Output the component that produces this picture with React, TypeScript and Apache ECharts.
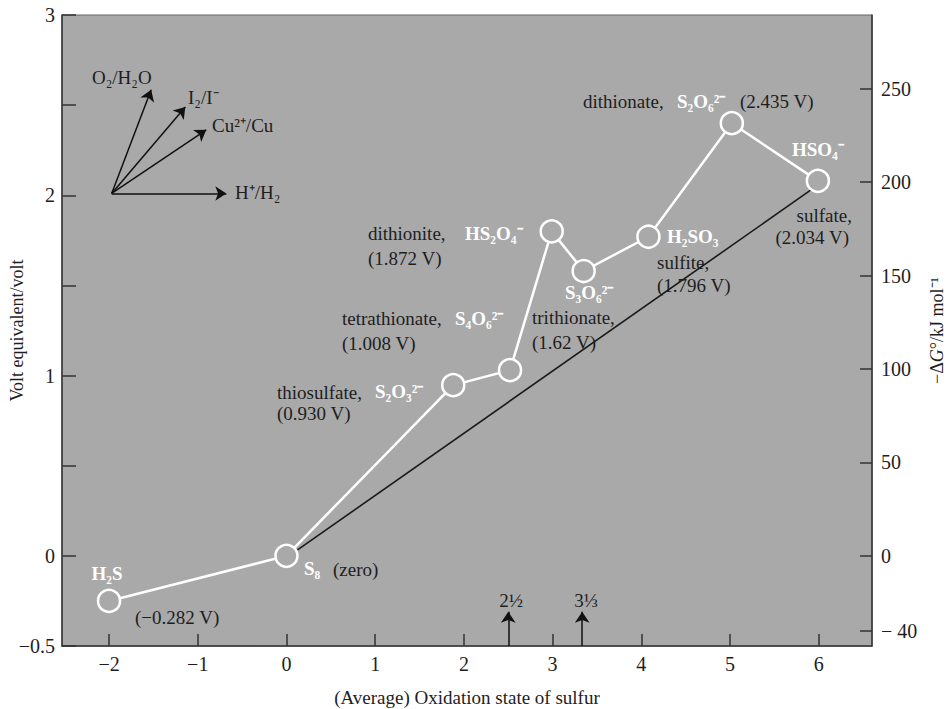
import React, { useEffect, useRef } from "react";
import * as echarts from "echarts";

const FONT = '"Liberation Serif", "Times New Roman", serif';
const FARADAY = 96.485; // kJ per volt-equivalent

// Oxidation state (x) and volt equivalent (y) of each species
const SPECIES = ["H₂S", "S₈", "S₂O₃²⁻", "S₄O₆²⁻", "HS₂O₄⁻", "S₃O₆²⁻", "H₂SO₃", "S₂O₆²⁻", "HSO₄⁻"];
const OX_STATE = [-2, 0, 1.88, 2.52, 2.99, 3.35, 4.08, 5.02, 5.99];
const VOLT_EQ = [-0.25, 0, 0.947, 1.03, 1.8, 1.58, 1.77, 2.4, 2.08];

// Straight reference line S8 -> sulfate
const REF_LINE_X = [0, 6];
const REF_LINE_Y = [-0.01, 2.06];

// Reference couples (arrows, slope = E°)
const COUPLE_ORIGIN = [-1.97, 2.01];
const COUPLE_NAMES = ["O₂/H₂O", "I₂/I⁻", "Cu²⁺/Cu", "H⁺/H₂"];
const COUPLE_TIP_X = [-1.525, -1.14, -0.904, -0.678];
const COUPLE_TIP_Y = [2.585, 2.49, 2.363, 2.01];

// Marker arrows for average oxidation states
const MARK_X = [2.5, 10 / 3];
const MARK_LABELS = ["2½", "3⅓"];
const MARK_FROM_Y = -0.5;
const MARK_TO_Y = -0.31;

// Ticks
const X_TICKS = [-2, -1, 0, 1, 2, 3, 4, 5, 6];
const Y_LABELS = [-0.5, 0, 1, 2, 3];
const G_TICKS = [-40, 0, 50, 100, 150, 200, 250];

const minus = (v: number) => (v < 0 ? "−" + Math.abs(v) : String(v));

type Ann = { t: string; x: number; y: number; w?: boolean; align?: string };
const ANNOTATIONS: Ann[] = [
  { t: "H₂S", x: 107, y: 573, w: true, align: "center" },
  { t: "(−0.282 V)", x: 135, y: 617 },
  { t: "S₈", x: 304, y: 568, w: true },
  { t: "(zero)", x: 333, y: 569 },
  { t: "thiosulfate,", x: 277, y: 392 },
  { t: "S₂O₃²⁻", x: 375, y: 391, w: true },
  { t: "(0.930 V)", x: 277, y: 413 },
  { t: "tetrathionate,", x: 342, y: 318 },
  { t: "S₄O₆²⁻", x: 455, y: 318, w: true },
  { t: "(1.008 V)", x: 342, y: 343 },
  { t: "dithionite,", x: 368, y: 233 },
  { t: "HS₂O₄⁻", x: 465, y: 233, w: true },
  { t: "(1.872 V)", x: 368, y: 258 },
  { t: "S₃O₆²⁻", x: 565, y: 292, w: true },
  { t: "trithionate,", x: 532, y: 317 },
  { t: "(1.62 V)", x: 532, y: 342 },
  { t: "H₂SO₃", x: 667, y: 236, w: true },
  { t: "sulfite,", x: 657, y: 262 },
  { t: "(1.796 V)", x: 657, y: 285 },
  { t: "dithionate,", x: 583, y: 101 },
  { t: "S₂O₆²⁻", x: 677, y: 101, w: true },
  { t: "(2.435 V)", x: 740, y: 101 },
  { t: "HSO₄⁻", x: 792, y: 149, w: true },
  { t: "sulfate,", x: 852, y: 215, align: "right" },
  { t: "(2.034 V)", x: 849, y: 237, align: "right" },
];

const COUPLE_LABEL_POS = [
  { x: 92, y: 77 },
  { x: 188, y: 97 },
  { x: 212, y: 125 },
  { x: 235, y: 192 },
];
const MARK_LABEL_POS = [
  { x: 511, y: 600 },
  { x: 586, y: 600 },
];

export default function App() {
  const ref = useRef<HTMLDivElement>(null);
  useEffect(() => {
    if (!ref.current) return;
    const chart = echarts.init(ref.current, null, { renderer: "svg" });
    const axisColor = "#333";
    const textColor = "#1e1e1e";
    const bg = "#a9a9a9";

    const graphics: any[] = [];
    ANNOTATIONS.forEach((a) => {
      graphics.push({
        type: "text",
        x: a.x,
        y: a.y,
        z: 100,
        style: {
          text: a.t,
          fill: a.w ? "#ffffff" : textColor,
          font: `${a.w ? "bold " : ""}19px ${FONT}`,
          align: a.align || "left",
          verticalAlign: "middle",
        },
      });
    });
    COUPLE_NAMES.forEach((n, i) => {
      graphics.push({
        type: "text",
        x: COUPLE_LABEL_POS[i].x,
        y: COUPLE_LABEL_POS[i].y,
        z: 100,
        style: { text: n, fill: textColor, font: `19px ${FONT}`, align: "left", verticalAlign: "middle" },
      });
    });
    MARK_LABELS.forEach((n, i) => {
      graphics.push({
        type: "text",
        x: MARK_LABEL_POS[i].x,
        y: MARK_LABEL_POS[i].y,
        z: 100,
        style: { text: n, fill: textColor, font: `19px ${FONT}`, align: "center", verticalAlign: "middle" },
      });
    });

    const arrowData = [
      ...COUPLE_NAMES.map((_, i) => ({
        coords: [COUPLE_ORIGIN, [COUPLE_TIP_X[i], COUPLE_TIP_Y[i]]],
      })),
      ...MARK_X.map((x) => ({ coords: [[x, MARK_FROM_Y], [x, MARK_TO_Y]] })),
    ];

    chart.setOption({
      animation: false,
      textStyle: { fontFamily: FONT },
      grid: {
        left: 62,
        right: 78,
        top: 15,
        bottom: 63,
        containLabel: false,
        outerBoundsMode: "none",
        show: true,
        backgroundColor: bg,
        borderColor: "#666",
        borderWidth: 1,
      },
      xAxis: {
        type: "value",
        min: -2.53,
        max: 6.6,
        axisLine: { show: true, onZero: false, lineStyle: { color: axisColor, width: 1.5 } },
        axisTick: { show: true, inside: true, length: 12, customValues: X_TICKS, lineStyle: { color: axisColor, width: 1.5 } },
        axisLabel: { customValues: X_TICKS, formatter: (v: number) => minus(v), color: textColor, fontSize: 20, fontFamily: FONT, margin: 8 },
        splitLine: { show: false },
        name: "(Average) Oxidation state of sulfur",
        nameLocation: "middle",
        nameGap: 42,
        nameMoveOverlap: false,
        nameTextStyle: { color: textColor, fontSize: 19, fontFamily: FONT },
      },
      yAxis: [
        {
          type: "value",
          min: -0.5,
          max: 3,
          interval: 0.5,
          axisLine: { show: true, onZero: false, lineStyle: { color: axisColor, width: 1.5 } },
          axisTick: { show: true, inside: true, length: 14, lineStyle: { color: axisColor, width: 1.5 } },
          axisLabel: { customValues: Y_LABELS, formatter: (v: number) => minus(v), color: textColor, fontSize: 20, fontFamily: FONT, margin: 7 },
          splitLine: { show: false },
          name: "Volt equivalent/volt",
          nameLocation: "middle",
          nameGap: 36,
          nameRotate: 90,
          nameMoveOverlap: false,
          nameTextStyle: { color: textColor, fontSize: 18, fontFamily: FONT },
        },
        {
          type: "value",
          position: "right",
          min: -0.5 * FARADAY,
          max: 3 * FARADAY,
          axisLine: { show: true, onZero: false, lineStyle: { color: axisColor, width: 1.5 } },
          axisTick: { show: true, inside: true, length: 12, customValues: G_TICKS, lineStyle: { color: axisColor, width: 1.5 } },
          axisLabel: {
            customValues: G_TICKS,
            formatter: (v: number) => (v < 0 ? "− " + Math.abs(v) : String(v)),
            color: textColor,
            fontSize: 20,
            fontFamily: FONT,
            margin: 9,
          },
          splitLine: { show: false },
          name: "−Δ{i|G}°/kJ mol⁻¹",
          nameLocation: "middle",
          nameGap: 56,
          nameRotate: 90,
          nameMoveOverlap: false,
          nameTextStyle: {
            color: textColor,
            fontSize: 18,
            fontFamily: FONT,
            rich: { i: { fontStyle: "italic", fontSize: 18, fontFamily: FONT, color: textColor } },
          },
        },
      ],
      series: [
        {
          type: "line",
          name: "reference",
          data: REF_LINE_X.map((x, i) => [x, REF_LINE_Y[i]]),
          symbol: "none",
          lineStyle: { color: "#1a1a1a", width: 1.6 },
          z: 2,
          silent: true,
        },
        {
          type: "lines",
          coordinateSystem: "cartesian2d",
          xAxisIndex: 0,
          yAxisIndex: 0,
          symbol: ["none", "arrow"],
          symbolSize: 11,
          lineStyle: { color: "#111", width: 1.5, opacity: 1, curveness: 0 },
          data: arrowData,
          z: 2,
          silent: true,
        },
        {
          type: "line",
          name: "species",
          data: OX_STATE.map((x, i) => ({ value: [x, VOLT_EQ[i]], name: SPECIES[i] })),
          symbol: "circle",
          symbolSize: 22,
          showSymbol: true,
          itemStyle: { color: bg, borderColor: "#ffffff", borderWidth: 2.5 },
          lineStyle: { color: "#ffffff", width: 2.5 },
          z: 3,
          silent: true,
        },
      ],
      graphic: graphics,
    });
    return () => chart.dispose();
  }, []);
  return <div ref={ref} style={{ width: 950, height: 709, position: "absolute", left: 0, top: 0 }} />;
}
